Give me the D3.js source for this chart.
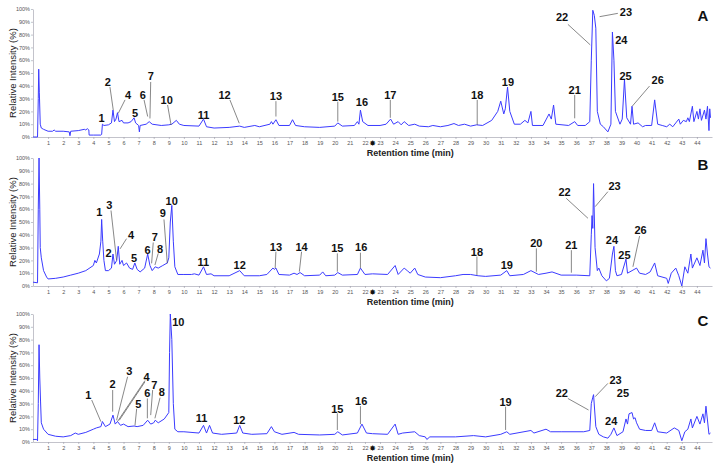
<!DOCTYPE html>
<html>
<head>
<meta charset="utf-8">
<script src="https://cdn.jsdelivr.net/npm/d3@7"></script>
<style>
  body { margin: 0; background: #fff; }
  svg { display: block; }
  .tick text { font-family: Arial, "Liberation Sans", sans-serif; fill: #555; }
  .peak { font-family: Arial, "Liberation Sans", sans-serif; font-weight: bold; font-size: 11px; fill: #111; }
</style>
</head>
<body>
<div id="chart"></div>
<script>
// chromatogram traces: [retention time (min), relative intensity (%)]
var traceA = [[0,0],[0.3,0],[0.35,30],[0.38,53],[0.42,35],[0.48,10],[0.55,7],[0.7,6],[1.0,4.5],[1.3,4.5],[1.4,5.5],[1.5,4.5],
  [2.0,4.5],[2.4,4],[2.45,1],[2.5,4.5],[3.0,5],[3.4,6],[3.5,5.5],[3.6,6.5],[3.7,5.5],[3.72,1.5],[4.0,1.5],[4.5,1.5],[4.55,2],
  [4.6,10],[4.7,9],[5.0,9.5],[5.2,11],[5.3,21],[5.4,12],[5.5,14],[5.6,19],[5.7,12],[5.9,13],[6.0,11],[6.3,11],[6.5,12],
  [6.7,15],[6.8,11],[7.0,9],[7.05,4],[7.1,9],[7.5,10],[7.7,12],[7.9,10],[8.5,9],[9.0,9.5],[9.2,10],[9.5,13],[9.7,10],
  [10,9],[11.0,8.5],[11.3,14],[11.5,8],[12,7],[13,7.5],[13.7,8.5],[14,7.5],[14.7,9],[15,8],[15.7,10],[15.8,12],[15.9,10],
  [16.1,13.5],[16.3,9],[17.0,9],[17.2,13.5],[17.4,9],[18,8],[19,7.5],[20,8.5],[20.2,11],[20.5,8.5],[21.3,9],[21.5,12],
  [21.6,10],[21.7,21],[21.85,12],[22.2,9],[23.0,9],[23.4,10],[23.7,14],[23.9,10],[24.2,12],[24.4,9.5],[24.6,12],[24.9,9],
  [25.3,10],[25.6,8.5],[26.2,8],[26.5,9],[27.0,8],[27.5,9],[27.9,10.5],[28.2,9],[28.6,10],[29.0,8.5],[29.4,9.5],[29.8,9],
  [30.4,13],[30.8,20],[31.0,28],[31.2,18],[31.3,22],[31.45,39],[31.6,20],[31.9,10],[32.3,10],[32.6,13],[32.8,11],[33.0,20],
  [33.1,9],[33.8,9],[34.2,18],[34.35,14],[34.5,25],[34.65,10],[35.5,9],[35.9,12],[36.1,9],[36.6,9],[36.9,12],[37.0,60],
  [37.1,99],[37.2,95],[37.3,85],[37.4,20],[37.6,10],[37.8,8],[38.1,4],[38.3,10],[38.4,82],[38.5,60],[38.6,20],[38.9,10],
  [39.05,14],[39.2,45],[39.35,15],[39.6,10],[39.7,24],[39.8,10],[40.1,11],[40.4,8],[40.6,9],[41.0,9],[41.2,29],[41.4,10],
  [41.7,9],[42.0,8],[42.2,10],[42.4,8],[42.6,11],[42.8,14],[42.9,10],[43.1,13],[43.3,12],[43.4,15],[43.5,12],[43.7,24],
  [43.8,12],[44.0,20],[44.1,14],[44.2,22],[44.3,13],[44.5,21],[44.6,14],[44.7,24],[44.8,5],[44.85,22],[44.9,15]];

var traceB = [[0,3],[0.3,2.5],[0.35,60],[0.4,100],[0.45,60],[0.48,30],[0.55,22],[0.7,12],[0.9,7],[1.0,5.5],[1.5,6],[2.0,7],
  [2.5,8.5],[3.0,10],[3.5,12],[4.0,16],[4.1,20],[4.2,18],[4.4,25],[4.5,35],[4.55,52],[4.62,35],[4.7,20],[4.8,12],[5.0,12],
  [5.2,14],[5.3,25],[5.4,17],[5.55,20],[5.65,31],[5.75,17],[5.9,20],[6.0,16],[6.2,18],[6.4,14],[6.6,13],[6.75,18],[6.9,13],
  [7.1,11],[7.4,14],[7.6,25],[7.75,16],[7.9,12],[8.1,15],[8.3,14],[8.6,16],[8.9,18],[9.0,22],[9.1,50],[9.2,63],[9.3,35],
  [9.4,15],[9.6,9],[10,9],[10.5,9],[10.7,9.5],[11,8.5],[11.3,15],[11.5,9],[11.8,9.5],[12,8],[13,8],[13.7,12],[14,8],
  [15,8],[15.5,9],[15.9,14],[16.0,13],[16.1,14],[16.3,9],[17,8.5],[17.3,10],[17.5,9],[17.7,10.5],[18,8],[19,8.5],[19.2,11],
  [19.4,8],[20.0,8.5],[20.2,10.5],[20.5,8.5],[21.5,9],[21.7,14],[22,9],[22.5,9.5],[23.5,9],[24.0,16],[24.2,9],[24.6,14],
  [24.8,12],[25.0,10],[25.3,14],[25.5,9],[26,7],[27,6.5],[28,8],[28.5,9],[29,9],[29.5,8],[30,7.5],[31,8.5],[31.4,12],
  [31.6,8],[32.5,9],[33,12],[33.5,9],[34,10],[34.4,11],[35,8.5],[36,8.5],[36.9,8],[37.0,40],[37.05,55],[37.1,45],[37.15,80],
  [37.25,30],[37.4,12],[37.5,14],[37.7,8],[38.0,4],[38.2,6],[38.4,25],[38.5,31],[38.6,12],[38.7,8],[39.0,9],[39.3,21],
  [39.4,10],[39.7,12],[40.0,14],[40.2,10],[40.6,9],[40.9,11],[41.2,18],[41.4,8],[42.0,6],[42.1,2],[42.3,10],[42.6,14],
  [42.8,8],[43.0,0],[43.2,15],[43.4,10],[43.6,25],[43.7,14],[44.0,22],[44.2,16],[44.4,28],[44.5,18],[44.6,37],[44.7,25],
  [44.8,15],[44.9,14]];

var traceC = [[0,2],[0.25,2],[0.3,1],[0.35,30],[0.4,76],[0.45,50],[0.5,32],[0.55,15],[0.7,10],[1.0,6],[1.5,4.5],[2.0,4],
  [2.5,5],[2.8,7],[3.0,6],[3.5,7.5],[4.0,10],[4.2,11],[4.5,12],[4.6,16],[4.8,12],[5.1,14],[5.3,21],[5.45,14],[5.6,16],
  [5.8,13],[6.0,14],[6.3,12],[6.7,12.5],[6.9,12],[7.3,13],[7.6,17],[7.8,14],[8.0,15],[8.1,17],[8.3,15],[8.7,18],[9.0,23],
  [9.05,70],[9.1,100],[9.2,80],[9.3,30],[9.4,10],[9.6,8],[10,8],[11,7],[11.3,13],[11.5,7],[11.7,13],[11.9,7],[12.5,6],
  [13.5,7],[13.7,13],[13.9,7],[14.5,6],[15.5,6.5],[15.8,12],[16.0,8],[16.5,6],[17.3,7.5],[17.6,6],[19,5.5],[20,6],
  [20.2,8],[20.5,5.5],[21.5,7],[21.8,14],[22.1,7],[22.5,6.5],[23.5,6],[24.0,14],[24.2,6],[24.5,7],[25.3,8],[25.6,5],
  [26,4],[26.1,2],[26.3,4],[28,4],[29.2,5],[30,4],[31,6],[31.4,8],[31.6,6],[33,9],[33.2,7],[34,10],[34.3,8],[35,8],
  [36.5,8],[36.9,9],[37.0,30],[37.1,35],[37.15,37],[37.3,12],[37.5,6],[37.8,4],[38.1,3],[38.3,6],[38.5,11],[38.7,5],
  [39.1,8],[39.3,18],[39.4,14],[39.5,22],[39.7,23],[39.8,18],[39.9,19],[40.0,15],[40.2,10],[40.6,9],[41.0,9],[41.2,15],
  [41.4,8],[42.0,7],[42.5,11],[42.8,9],[43.0,1],[43.2,8],[43.4,10],[43.6,18],[43.7,11],[44.0,20],[44.2,14],[44.4,22],
  [44.5,15],[44.6,28],[44.8,6],[44.9,7]];

// peak numbers: [label, text time, text %, leader from (t,%) to (t,%)]
var peaksA = [["1",4.55,14.6],["2",4.95,43,5.1,39,5.32,21],["4",6.3,33,6.1,29,5.65,18.5],["5",6.76,18.5],
  ["6",7.27,33,7.36,29,7.6,16],["7",7.8,48,7.8,43,7.75,14.5],["10",8.86,29,8.92,25,9.15,9.4],["11",11.3,17],
  ["12",12.7,33,13.05,29,13.67,10.7],["13",16.1,32,16.1,28,16.1,16],["15",20.2,31,20.2,27.6,20.2,12],["16",21.8,27],
  ["17",23.68,32.8,23.68,29,23.68,15],["18",29.44,32.8,29.44,29,29.44,9.4],["19",31.48,43],
  ["21",35.9,36.7,35.9,32.8,35.9,14.6],["22",35.06,93.5,35.45,88,36.93,72],["23",39.3,98,38.76,96.6,37.55,94],
  ["24",38.99,75.8],["25",39.27,47.6],["26",41.4,44.5,40.86,39.8,39.71,24]];

var peaksB = [["1",4.4,58],["3",5.06,63,5.17,59,5.54,20],["4",6.5,40,6.2,37,5.77,29],["2",5.0,26],["5",6.7,21.6],
  ["6",7.6,28],["7",8.08,38,7.97,34,7.86,17.7],["8",8.42,29,8.3,25.5,8.08,16.4],["9",8.6,57,8.68,52,8.9,17.7],
  ["10",9.19,66.7],["11",11.29,19],["12",13.7,16.4],["13",16.1,30.7,16.1,26.8,16.05,13.8],
  ["14",17.8,30.7,17.8,26.8,17.65,11.2],["15",20.17,29.4,20.17,25.5,20.17,11.2],["16",21.75,30.7,21.7,26,21.7,14],
  ["18",29.42,26.8,29.42,23,29.42,8.6],["19",31.4,16.4],["20",33.36,33.3,33.36,29.4,33.36,11.2],
  ["21",35.68,32,35.68,28,35.68,10.4],["22",35.23,73.7,35.34,68.5,36.78,52.9],["23",38.54,78,38.1,73.7,37.26,62],
  ["24",38.37,36],["25",39.2,24],["26",40.27,43.75,40.2,39,39.76,15]];

var peaksC = [["1",3.67,37,3.89,32.8,4.5,15.9],["2",5.28,45,5.28,40.6,5.28,23.7],["3",6.38,55.5,6.27,51,5.54,17],
  ["4",7.53,51,7.42,48,5.6,16],["4",null,null,7.42,47,5.72,17],["7",8.04,44.5,7.93,40.6,7.8,21],
  ["6",7.58,38,7.58,34,7.58,18.5],["8",8.53,38.8,8.42,34.6,8.08,18.5],["5",6.98,30,6.87,26,6.76,13],
  ["10",9.63,94],["11",11.18,18.5],["12",13.67,17],["15",20.17,26,20.17,22.4,20.17,9.4],
  ["16",21.75,32,21.7,28,21.7,14],["19",31.32,31.5,31.32,27.6,31.32,9.4],["22",35.05,38,35.45,34,36.82,25],
  ["23",38.61,48.4,38.1,45.8,37.26,35.4],["25",39.1,38],["24",38.32,16]];

var xTicks = d3.range(1, 45);
var yTicks = d3.range(0, 101, 10);

var width = 718, height = 469;
var svg = d3.select("#chart").append("svg")
  .attr("width", width)
  .attr("height", height);

var x = d3.scaleLinear().domain([0, 45]).range([33, 712]);

var panels = [
  {name: "A", base: 137, trace: traceA, peaks: peaksA},
  {name: "B", base: 286, trace: traceB, peaks: peaksB},
  {name: "C", base: 442, trace: traceC, peaks: peaksC}
];

panels.forEach(function(p) {
  var y = d3.scaleLinear().domain([0, 100]).range([p.base, p.base - 128]);
  var g = svg.append("g");

  // axes
  var leftAxis = d3.axisLeft(y).tickValues(yTicks).tickFormat(d => d + "%").tickSize(2).tickSizeOuter(0);
  var bottomAxis = d3.axisBottom(x).tickValues(xTicks).tickFormat(d3.format("d")).tickSize(2).tickSizeOuter(0);

  var ga = g.append("g").attr("transform", "translate(33,0)").call(leftAxis);
  ga.selectAll("text").attr("font-size", 5.5).attr("x", -3);
  var gb = g.append("g").attr("transform", `translate(0,${p.base})`).call(bottomAxis);
  gb.selectAll("text").attr("font-size", 5.5).attr("y", 4);
  g.selectAll(".domain, .tick line").attr("stroke", "#9a9aa8").attr("stroke-width", 0.6);

  // little marker between 22 and 23
  g.append("text")
    .attr("x", x(22.5)).attr("y", p.base + 9)
    .attr("text-anchor", "middle")
    .attr("font-family", "DejaVu Sans")
    .attr("font-size", 8)
    .attr("fill", "#111")
    .text("\u2738");

  // trace
  var line = d3.line().x(d => x(d[0])).y(d => y(d[1]));
  g.append("path")
    .datum(p.trace)
    .attr("fill", "none")
    .attr("stroke", "#3b3bff")
    .attr("stroke-width", 1)
    .attr("stroke-linejoin", "round")
    .attr("d", line);

  // leader lines
  g.selectAll(".leader")
    .data(p.peaks.filter(d => d.length > 3))
    .enter().append("line")
    .attr("x1", d => x(d[3])).attr("y1", d => y(d[4]))
    .attr("x2", d => x(d[5])).attr("y2", d => y(d[6]))
    .attr("stroke", "#555")
    .attr("stroke-width", 0.7);

  // peak numbers
  g.selectAll(".peak")
    .data(p.peaks.filter(d => d[1] !== null))
    .enter().append("text")
    .attr("class", "peak")
    .attr("x", d => x(d[1]))
    .attr("y", d => y(d[2]))
    .attr("dy", "0.36em")
    .attr("text-anchor", "middle")
    .text(d => d[0]);

  // axis titles
  g.append("text")
    .attr("transform", `translate(16,${p.base - 64}) rotate(-90)`)
    .attr("text-anchor", "middle")
    .attr("font-family", "Arial, 'Liberation Sans', sans-serif")
    .attr("font-size", 9.5)
    .attr("fill", "#222")
    .text("Relative Intensity (%)");

  g.append("text")
    .attr("x", x(25)).attr("y", p.base + 19)
    .attr("text-anchor", "middle")
    .attr("font-family", "Arial, 'Liberation Sans', sans-serif")
    .attr("font-weight", "bold")
    .attr("font-size", 9)
    .attr("fill", "#222")
    .text("Retention time (min)");

  // panel letter
  g.append("text")
    .attr("x", 703).attr("y", p.base - 116)
    .attr("text-anchor", "middle")
    .attr("font-family", "Arial, 'Liberation Sans', sans-serif")
    .attr("font-weight", "bold")
    .attr("font-size", 15)
    .attr("fill", "#111")
    .text(p.name);
});
</script>
</body>
</html>
